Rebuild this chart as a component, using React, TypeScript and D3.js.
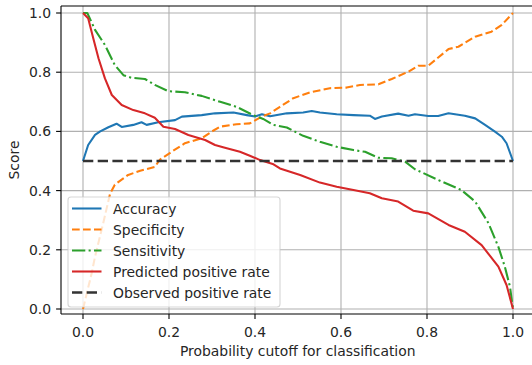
import React from "react";
import * as d3 from "d3";

const accX = [0, 0.012, 0.028, 0.04, 0.059, 0.078, 0.09, 0.117, 0.136, 0.148, 0.175, 0.214, 0.23, 0.276, 0.307, 0.35, 0.381, 0.4, 0.416, 0.435, 0.474, 0.512, 0.532, 0.551, 0.59, 0.629, 0.667, 0.679, 0.695, 0.733, 0.757, 0.772, 0.803, 0.826, 0.85, 0.888, 0.912, 0.935, 0.958, 0.974, 0.985, 1.0];
const accY = [0.5, 0.554, 0.588, 0.6, 0.614, 0.626, 0.615, 0.622, 0.631, 0.622, 0.631, 0.638, 0.65, 0.655, 0.661, 0.664, 0.655, 0.65, 0.658, 0.651, 0.661, 0.664, 0.669, 0.664, 0.658, 0.655, 0.653, 0.642, 0.65, 0.66, 0.653, 0.658, 0.652, 0.652, 0.661, 0.653, 0.644, 0.622, 0.599, 0.582, 0.56, 0.5];

const specX = [0, 0.01, 0.02, 0.028, 0.047, 0.063, 0.074, 0.105, 0.133, 0.167, 0.179, 0.206, 0.237, 0.276, 0.3, 0.319, 0.357, 0.388, 0.416, 0.435, 0.458, 0.489, 0.528, 0.574, 0.613, 0.644, 0.687, 0.718, 0.757, 0.78, 0.803, 0.85, 0.873, 0.912, 0.95, 0.974, 1.0];
const specY = [0, 0.06, 0.12, 0.177, 0.29, 0.39, 0.42, 0.453, 0.467, 0.48, 0.505, 0.531, 0.56, 0.577, 0.6, 0.616, 0.624, 0.627, 0.65, 0.661, 0.683, 0.712, 0.732, 0.746, 0.748, 0.757, 0.759, 0.777, 0.802, 0.822, 0.822, 0.878, 0.886, 0.92, 0.937, 0.96, 1.0];

const sensX = [0, 0.01, 0.028, 0.051, 0.074, 0.094, 0.113, 0.144, 0.167, 0.198, 0.237, 0.276, 0.319, 0.357, 0.396, 0.419, 0.443, 0.474, 0.512, 0.551, 0.59, 0.629, 0.656, 0.687, 0.718, 0.749, 0.772, 0.826, 0.88, 0.912, 0.943, 0.966, 0.981, 0.993, 1.0];
const sensY = [1.0, 1.0, 0.943, 0.892, 0.824, 0.79, 0.781, 0.777, 0.757, 0.736, 0.732, 0.72, 0.7, 0.683, 0.655, 0.642, 0.622, 0.613, 0.585, 0.565, 0.548, 0.537, 0.531, 0.511, 0.509, 0.498, 0.472, 0.436, 0.402, 0.363, 0.29, 0.21, 0.143, 0.075, 0.0];

const predX = [0, 0.012, 0.024, 0.036, 0.051, 0.067, 0.09, 0.117, 0.144, 0.167, 0.187, 0.214, 0.245, 0.284, 0.307, 0.33, 0.365, 0.388, 0.412, 0.443, 0.458, 0.505, 0.551, 0.59, 0.629, 0.667, 0.695, 0.733, 0.768, 0.803, 0.85, 0.888, 0.927, 0.966, 0.985, 1.0];
const predY = [1.0, 0.982, 0.914, 0.847, 0.779, 0.723, 0.689, 0.672, 0.661, 0.646, 0.616, 0.608, 0.588, 0.571, 0.554, 0.545, 0.531, 0.518, 0.503, 0.489, 0.475, 0.453, 0.427, 0.413, 0.402, 0.391, 0.374, 0.363, 0.332, 0.323, 0.284, 0.261, 0.216, 0.143, 0.081, 0.0];

const obsX = [0, 1];
const obsY = [0.5, 0.5];

const xTicks = [0, 0.2, 0.4, 0.6, 0.8, 1.0];
const yTicks = [0, 0.2, 0.4, 0.6, 0.8, 1.0];
const seriesNames = ["Accuracy", "Specificity", "Sensitivity", "Predicted positive rate", "Observed positive rate"];

const FONT = "DejaVu Sans";
const FS = 13.9;

export default function App() {
  const x = d3.scaleLinear().domain([0, 1]).range([83, 513]);
  const y = d3.scaleLinear().domain([0, 1]).range([309, 13]);
  const L = 61, R = 534.5, T = 6, B = 314;

  const line = d3.line<[number, number]>().x((d) => x(d[0])).y((d) => y(d[1]));
  const zip = (a: number[], b: number[]) => a.map((v, i) => [v, b[i]] as [number, number]);

  const series = [
    { name: seriesNames[0], d: zip(accX, accY), color: "#1f77b4", dash: undefined as string | undefined, w: 2.08 },
    { name: seriesNames[1], d: zip(specX, specY), color: "#ff7f0e", dash: "7.7,3.3", w: 2.08 },
    { name: seriesNames[2], d: zip(sensX, sensY), color: "#2ca02c", dash: "13.3,3.3,2.1,3.3", w: 2.08 },
    { name: seriesNames[3], d: zip(predX, predY), color: "#d62728", dash: undefined, w: 2.08 },
    { name: seriesNames[4], d: zip(obsX, obsY), color: "#333333", dash: "10.3,4.4", w: 2.6 },
  ];

  const legX = 68, legY = 197, legW = 212, legH = 110;
  const rowY = [208.5, 229.5, 250.5, 271.5, 292.5];

  return (
    <svg width={532} height={365} style={{ position: "absolute", left: 0, top: 0, background: "#fff" }} fontFamily={FONT}>
      <defs>
        <clipPath id="plotclip">
          <rect x={L} y={T} width={R - L} height={B - T} />
        </clipPath>
      </defs>
      <rect x={0} y={0} width={532} height={365} fill="#fff" />
      {/* grid */}
      {xTicks.map((t) => (
        <line key={"gx" + t} x1={x(t)} x2={x(t)} y1={T} y2={B} stroke="#b0b0b0" strokeWidth={1.1} />
      ))}
      {yTicks.map((t) => (
        <line key={"gy" + t} x1={L} x2={R} y1={y(t)} y2={y(t)} stroke="#b0b0b0" strokeWidth={1.1} />
      ))}
      {/* lines */}
      <g clipPath="url(#plotclip)">
        {series.map((s) => (
          <path key={s.name} d={line(s.d) || ""} fill="none" stroke={s.color} strokeWidth={s.w} strokeDasharray={s.dash} strokeLinejoin="round" strokeLinecap="butt" />
        ))}
      </g>
      {/* spines */}
      <line x1={L} x2={L} y1={T} y2={B} stroke="#000" strokeWidth={1.1} />
      <line x1={L} x2={R} y1={B} y2={B} stroke="#000" strokeWidth={1.1} />
      <line x1={L} x2={R} y1={T} y2={T} stroke="#000" strokeWidth={1.1} />
      <line x1={R} x2={R} y1={T} y2={B} stroke="#000" strokeWidth={1.1} />
      {/* ticks */}
      {xTicks.map((t) => (
        <g key={"xt" + t}>
          <line x1={x(t)} x2={x(t)} y1={B} y2={B + 4.9} stroke="#000" strokeWidth={1.1} />
          <text x={x(t)} y={337} fontSize={FS} textAnchor="middle" fill="#262626">{t.toFixed(1)}</text>
        </g>
      ))}
      {yTicks.map((t) => (
        <g key={"yt" + t}>
          <line x1={L - 4.9} x2={L} y1={y(t)} y2={y(t)} stroke="#000" strokeWidth={1.1} />
          <text x={51} y={y(t) + 5} fontSize={FS} textAnchor="end" fill="#262626">{t.toFixed(1)}</text>
        </g>
      ))}
      <text x={(L + R) / 2} y={356} fontSize={FS} textAnchor="middle" fill="#262626">Probability cutoff for classification</text>
      <text transform={`translate(19,${(T + B) / 2}) rotate(-90)`} fontSize={FS} textAnchor="middle" fill="#262626">Score</text>
      {/* legend */}
      <rect x={legX} y={legY} width={legW} height={legH} rx={3} ry={3} fill="#fff" fillOpacity={0.8} stroke="#cccccc" strokeOpacity={0.8} strokeWidth={1.1} />
      {series.map((s, i) => (
        <g key={"leg" + s.name}>
          <line x1={72} x2={101.5} y1={rowY[i]} y2={rowY[i]} stroke={s.color} strokeWidth={s.w} strokeDasharray={s.dash} />
          <text x={113} y={rowY[i] + 5} fontSize={FS} fill="#262626">{s.name}</text>
        </g>
      ))}
    </svg>
  );
}
